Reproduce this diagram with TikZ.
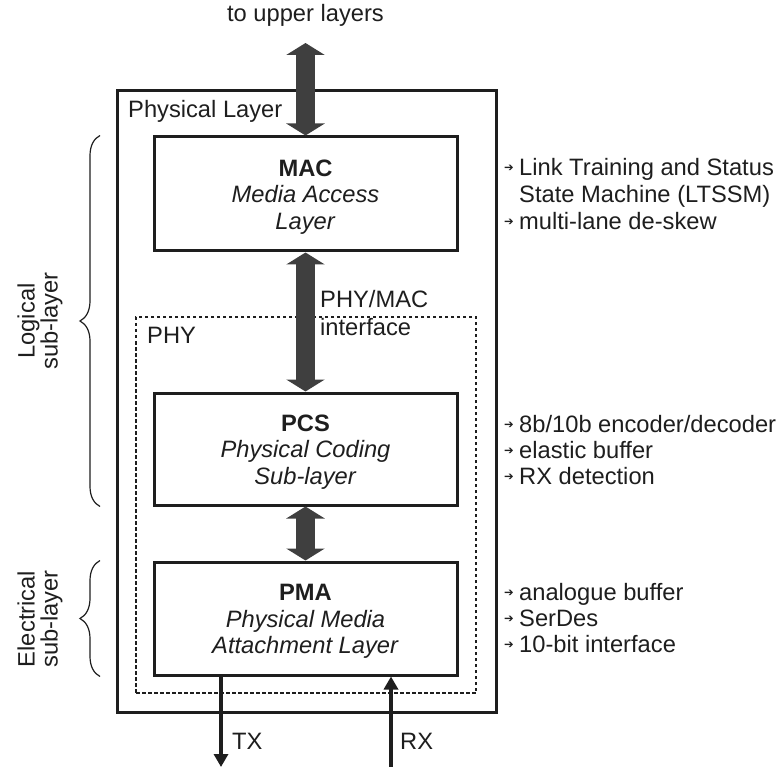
\documentclass[tikz,border=0pt]{standalone}
\usepackage{fontspec}
\setmainfont{Liberation Sans}
\newfontfamily\dejavu{DejaVu Sans}
\usetikzlibrary{arrows.meta,decorations.pathreplacing,calc}
\definecolor{ink}{HTML}{1E1E1E}
\definecolor{arr}{HTML}{3F3F3F}
\newcommand\bul{\makebox[17pt][l]{\hspace{2pt}\raisebox{4pt}{\dejavu\fontsize{11.5}{11.5}\selectfont ➔}}}
\newcommand\topfix{\rule{0pt}{22pt}}
\tikzset{
  layerbox/.style={draw=ink, line width=3pt, minimum width=303pt, align=center, inner sep=0pt},
  bigarrow/.style={draw=arr, line width=19pt, {Triangle[width=38pt,length=12pt]}-{Triangle[width=38pt,length=12pt]}},
  sigarrow/.style={draw=ink, line width=4.5pt, -{Triangle[width=14pt,length=13pt]}},
  lbl/.style={anchor=base west, inner sep=0pt},
  brc/.style={draw=ink, line width=1.2pt, decorate, decoration={brace, amplitude=20pt}},
  sidelbl/.style={rotate=90, align=center, inner sep=0pt, font=\fontsize{23.7}{23}\selectfont}
}
\begin{document}
\begin{tikzpicture}[x=1pt, y=-1pt, font=\fontsize{23.7}{26.5}\selectfont, text=ink]
\useasboundingbox (0,0) rectangle (779,767);

% containers
\node[draw=ink, line width=3pt, minimum width=379pt, minimum height=621pt, inner sep=0pt] (phys) at (306.5,401.5) {};
\node[draw=ink, line width=1.5pt, dash pattern=on 3.5pt off 2.5pt, minimum width=340pt, minimum height=376pt, inner sep=0pt] (phy) at (306,505) {};

% layer boxes
\node[layerbox, minimum height=114pt] (mac) at (305.5,194) {\topfix\textbf{MAC}\\\textit{Media Access}\\\textit{Layer}};
\node[layerbox, minimum height=112pt] (pcs) at (305.5,449) {\topfix\textbf{PCS}\\\textit{Physical Coding}\\\textit{Sub-layer}};
\node[layerbox, minimum height=113pt] (pma) at (305.5,618.5) {\topfix\textbf{PMA}\\\textit{Physical Media}\\\textit{Attachment Layer}};

% labels
\node[anchor=base, inner sep=0pt] (upper) at (305.5,22) {to upper layers};
\node[lbl] (physlbl) at (128,118) {Physical Layer};
\node[lbl] (phylbl) at (147,343) {PHY};
\node[lbl] (ifc1) at (320,308) {PHY/MAC};
\node[lbl] (ifc2) at (320,335) {interface};
\node[lbl] (txlbl) at (232,749) {TX};
\node[lbl] (rxlbl) at (400,749) {RX};

% thick double arrows
\coordinate (up) at (305.5,43);
\draw[bigarrow] (up) -- (mac.north);
\draw[bigarrow] (mac.south) -- (pcs.north);
\draw[bigarrow] (pcs.south) -- (pma.north);

% TX / RX
\coordinate (txend) at (221,767);
\coordinate (rxstart) at (391,769);
\draw[sigarrow] (pma.south -| txend) -- (txend);
\draw[sigarrow] (rxstart) -- (pma.south -| rxstart);

% braces
\coordinate (bx) at (100,0);
\draw[brc] (pcs.south -| bx) -- (mac.north -| bx);
\draw[brc] (pma.south -| bx) -- (pma.north -| bx);
\node[sidelbl] (logical) at (40,321) {Logical\\sub-layer};
\node[sidelbl] (electrical) at (40,619) {Electrical\\sub-layer};

% feature lists
\node[lbl] (m1) at (502,176) {\bul Link Training and Status};
\node[lbl] (m2) at (519,203) {State Machine (LTSSM)};
\node[lbl] (m3) at (502,230) {\bul multi-lane de-skew};
\node[lbl] (c1) at (502,432) {\bul 8b/10b encoder/decoder};
\node[lbl] (c2) at (502,458) {\bul elastic buffer};
\node[lbl] (c3) at (502,484) {\bul RX detection};
\node[lbl] (a1) at (502,600) {\bul analogue buffer};
\node[lbl] (a2) at (502,626) {\bul SerDes};
\node[lbl] (a3) at (502,652) {\bul 10-bit interface};
\end{tikzpicture}
\end{document}
